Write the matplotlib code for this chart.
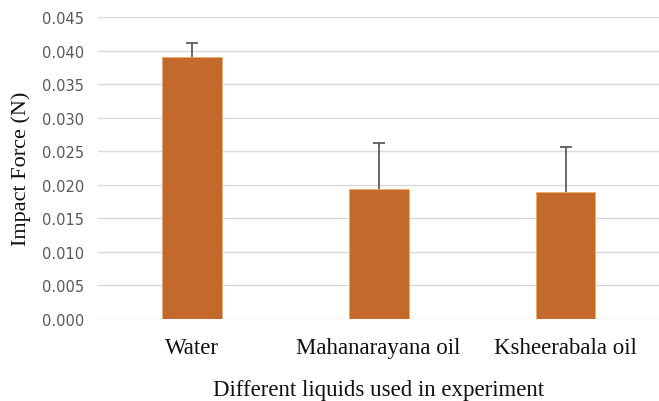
import numpy as np
import matplotlib
matplotlib.use("Agg")
import matplotlib.pyplot as plt

# ── Data ──────────────────────────────────────────────────────────────────────
liquids = ["Water", "Mahanarayana oil", "Ksheerabala oil"]
impact_force = [0.0391, 0.0194, 0.0189]
force_err = [0.0021, 0.0068, 0.0067]
y_ticks = [0.000, 0.005, 0.010, 0.015, 0.020, 0.025, 0.030, 0.035, 0.040, 0.045]

# ── Plot ──────────────────────────────────────────────────────────────────────
fig = plt.figure(figsize=(6.59, 4.02), dpi=100)
ax = fig.add_axes([0.149, 0.204, 0.851, 0.751])

x = np.arange(len(liquids))
ax.bar(x, impact_force, width=0.32, color="#C4692C", edgecolor="#E8B060",
       linewidth=0.6, zorder=3)
eb = ax.errorbar(x, impact_force, yerr=[np.zeros(len(x)), force_err], fmt="none",
                 ecolor="#505050", elinewidth=1.2, capsize=4, capthick=1.2, zorder=4)
# only the upper cap is shown
eb[1][0].set_visible(False)

ax.set_xlim(-0.5, 2.5)
ax.set_ylim(0, 0.045)
ax.set_yticks(y_ticks)
ax.set_yticklabels([f"{v:.3f}" for v in y_ticks], fontsize=10.5, color="#595959",
                   family="DejaVu Sans")
ax.set_xticks(x)
ax.set_xticklabels(liquids, fontsize=16.5, family="Liberation Serif", color="#111111")
ax.tick_params(axis="y", length=0, pad=10)
ax.tick_params(axis="x", length=0, pad=13)

ax.grid(True, axis="y", color="#D9D9D9", linewidth=1.0, zorder=0)
for s in ax.spines.values():
    s.set_visible(False)

ax.set_ylabel("Impact Force (N)", fontsize=16, family="Liberation Serif",
              color="#111111", labelpad=8)
ax.set_xlabel("Different liquids used in experiment", fontsize=16.5,
              family="Liberation Serif", color="#111111", labelpad=15)

fig.savefig("out.png", dpi=100)
